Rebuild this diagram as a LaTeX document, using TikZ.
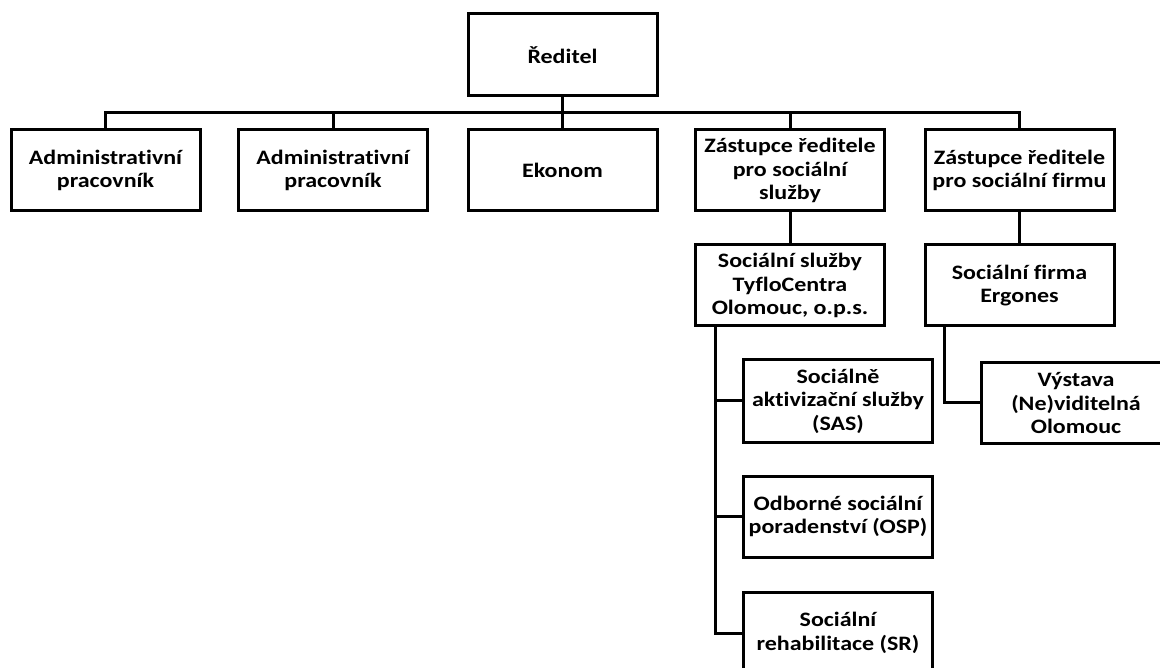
\documentclass[tikz,border=0pt]{standalone}
\usepackage{fontspec}
\setmainfont{Carlito}[FakeStretch=1.17,Ligatures=NoCommon]
\begin{document}
\begin{tikzpicture}[x=1pt,y=-1pt,
  box/.style={draw,line width=3pt,rectangle,inner sep=0pt,align=center,
    minimum width=189pt,minimum height=81pt,
    font=\fontsize{20.5}{23.5}\selectfont\bfseries},
  conn/.style={line width=3pt,line join=miter}]
\useasboundingbox (0,0) rectangle (1160,668);
\node[box,minimum height=82pt] (dir) at (562.5,55) {Ředitel};
\node[box] (a1) at (105.5,170.5) {Administrativní\\pracovník};
\node[box] (a2) at (333,170.5) {Administrativní\\pracovník};
\node[box] (ek) at (562.5,170.5) {Ekonom};
\node[box] (z1) at (790,170.5) {Zástupce ředitele\\pro sociální\\služby};
\node[box] (z2) at (1019.5,170.5) {Zástupce ředitele\\pro sociální firmu};
\node[box] (ty) at (790,285.5) {Sociální služby\\TyfloCentra\\Olomouc, o.p.s.};
\node[box] (erg) at (1019.5,285.5) {Sociální firma\\Ergones};
\node[box,minimum height=82pt] (sas) at (838,401) {Sociálně\\aktivizační služby\\(SAS)};
\node[box] (osp) at (838,516.5) {Odborné sociální\\poradenství (OSP)};
\node[box,minimum height=82pt] (sr) at (838,633) {Sociální\\rehabilitace (SR)};
\node[box,minimum height=80pt] (vys) at (1076,403) {Výstava\\(Ne)viditelná\\Olomouc};
\coordinate (bus) at (0,113);
\coordinate (tyspine) at (715,0);
\coordinate (ergspine) at (944,0);
\draw[conn] (dir.south) -- (dir.south |- bus);
\draw[conn] (a1.north) |- (z2.north |- bus) -- (z2.north);
\draw[conn] (a2.north) -- (a2.north |- bus);
\draw[conn] (ek.north) -- (ek.north |- bus);
\draw[conn] (z1.north) -- (z1.north |- bus);
\draw[conn] (z1.south) -- (z1.south |- ty.north);
\draw[conn] (z2.south) -- (z2.south |- erg.north);
\draw[conn] (tyspine |- ty.south) |- (sr.west);
\draw[conn] (tyspine |- sas.west) -- (sas.west);
\draw[conn] (tyspine |- osp.west) -- (osp.west);
\draw[conn] (ergspine |- erg.south) |- (vys.west);
\end{tikzpicture}
\end{document}
